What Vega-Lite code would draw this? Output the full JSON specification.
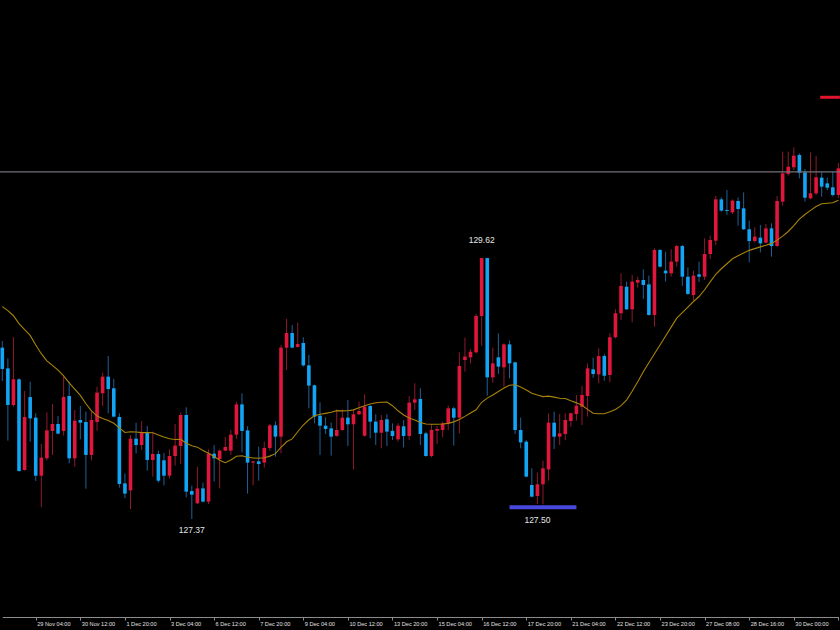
{
  "$schema": "https://vega.github.io/schema/vega-lite/v6.json",
  "width": 840,
  "height": 617,
  "padding": {"left": 0, "right": 0, "top": 0, "bottom": 13},
  "autosize": {"type": "none"},
  "background": "#000000",
  "config": {"view": {"stroke": null}, "axis": {"grid": false}},
  "data": {"values": [
    {"t":"26 Nov 04:00","o":128.851,"h":128.908,"l":128.565,"c":128.668,"ma":129.203},
    {"t":"26 Nov 08:00","o":128.673,"h":128.759,"l":128.053,"c":128.359,"ma":129.169},
    {"t":"26 Nov 12:00","o":128.359,"h":128.942,"l":128.344,"c":128.579,"ma":129.125},
    {"t":"26 Nov 16:00","o":128.579,"h":128.588,"l":127.786,"c":127.792,"ma":129.057},
    {"t":"26 Nov 20:00","o":127.801,"h":128.479,"l":127.795,"c":128.256,"ma":129.006},
    {"t":"29 Nov 00:00","o":128.427,"h":128.559,"l":128.044,"c":128.244,"ma":128.956},
    {"t":"29 Nov 04:00","o":128.250,"h":128.287,"l":127.706,"c":127.752,"ma":128.874},
    {"t":"29 Nov 08:00","o":127.752,"h":128.024,"l":127.483,"c":127.907,"ma":128.799},
    {"t":"29 Nov 12:00","o":127.901,"h":128.296,"l":127.884,"c":128.141,"ma":128.738},
    {"t":"29 Nov 16:00","o":128.136,"h":128.367,"l":127.930,"c":128.196,"ma":128.699},
    {"t":"29 Nov 20:00","o":128.196,"h":128.264,"l":128.107,"c":128.113,"ma":128.658},
    {"t":"30 Nov 00:00","o":128.136,"h":128.602,"l":128.096,"c":128.427,"ma":128.609},
    {"t":"30 Nov 04:00","o":128.436,"h":128.559,"l":127.858,"c":127.901,"ma":128.549},
    {"t":"30 Nov 08:00","o":127.901,"h":128.316,"l":127.829,"c":128.224,"ma":128.495},
    {"t":"30 Nov 12:00","o":128.230,"h":128.350,"l":128.064,"c":128.207,"ma":128.441},
    {"t":"30 Nov 16:00","o":128.213,"h":128.302,"l":127.641,"c":127.930,"ma":128.369},
    {"t":"30 Nov 20:00","o":127.930,"h":128.307,"l":127.884,"c":128.230,"ma":128.309},
    {"t":"1 Dec 00:00","o":128.213,"h":128.516,"l":128.138,"c":128.465,"ma":128.264},
    {"t":"1 Dec 04:00","o":128.459,"h":128.636,"l":128.350,"c":128.602,"ma":128.242},
    {"t":"1 Dec 08:00","o":128.602,"h":128.779,"l":128.287,"c":128.496,"ma":128.226},
    {"t":"1 Dec 12:00","o":128.502,"h":128.582,"l":128.253,"c":128.259,"ma":128.202},
    {"t":"1 Dec 16:00","o":128.256,"h":128.287,"l":127.649,"c":127.681,"ma":128.162},
    {"t":"1 Dec 20:00","o":127.686,"h":127.772,"l":127.558,"c":127.598,"ma":128.123},
    {"t":"2 Dec 00:00","o":127.626,"h":128.101,"l":127.466,"c":128.070,"ma":128.129},
    {"t":"2 Dec 04:00","o":128.070,"h":128.207,"l":127.944,"c":128.015,"ma":128.127},
    {"t":"2 Dec 08:00","o":128.015,"h":128.221,"l":127.972,"c":128.124,"ma":128.122},
    {"t":"2 Dec 12:00","o":128.124,"h":128.178,"l":127.795,"c":127.887,"ma":128.123},
    {"t":"2 Dec 16:00","o":127.887,"h":128.130,"l":127.744,"c":127.938,"ma":128.120},
    {"t":"2 Dec 20:00","o":127.938,"h":127.967,"l":127.692,"c":127.709,"ma":128.101},
    {"t":"3 Dec 00:00","o":127.884,"h":127.947,"l":127.669,"c":127.752,"ma":128.084},
    {"t":"3 Dec 04:00","o":127.752,"h":127.978,"l":127.729,"c":127.921,"ma":128.069},
    {"t":"3 Dec 08:00","o":127.921,"h":128.196,"l":127.838,"c":128.010,"ma":128.063},
    {"t":"3 Dec 12:00","o":128.007,"h":128.293,"l":127.852,"c":128.273,"ma":128.065},
    {"t":"3 Dec 16:00","o":128.273,"h":128.339,"l":127.566,"c":127.615,"ma":128.031},
    {"t":"3 Dec 20:00","o":127.620,"h":127.666,"l":127.380,"c":127.589,"ma":128.009,"noteLo":"127.37"},
    {"t":"6 Dec 00:00","o":127.515,"h":127.829,"l":127.509,"c":127.643,"ma":127.997},
    {"t":"6 Dec 04:00","o":127.643,"h":127.692,"l":127.523,"c":127.529,"ma":127.968},
    {"t":"6 Dec 08:00","o":127.529,"h":127.978,"l":127.509,"c":127.941,"ma":127.944},
    {"t":"6 Dec 12:00","o":127.941,"h":128.015,"l":127.701,"c":127.901,"ma":127.916},
    {"t":"6 Dec 16:00","o":127.895,"h":127.978,"l":127.643,"c":127.967,"ma":127.885},
    {"t":"6 Dec 20:00","o":127.967,"h":128.084,"l":127.961,"c":127.998,"ma":127.863},
    {"t":"7 Dec 00:00","o":127.967,"h":128.144,"l":127.930,"c":128.104,"ma":127.886},
    {"t":"7 Dec 04:00","o":128.104,"h":128.387,"l":128.067,"c":128.364,"ma":127.919},
    {"t":"7 Dec 08:00","o":128.364,"h":128.459,"l":127.952,"c":128.136,"ma":127.923},
    {"t":"7 Dec 12:00","o":128.141,"h":128.176,"l":127.598,"c":127.864,"ma":127.910},
    {"t":"7 Dec 16:00","o":127.864,"h":127.878,"l":127.669,"c":127.875,"ma":127.904},
    {"t":"7 Dec 20:00","o":127.875,"h":128.001,"l":127.709,"c":127.852,"ma":127.901},
    {"t":"8 Dec 00:00","o":127.864,"h":128.044,"l":127.821,"c":127.990,"ma":127.906},
    {"t":"8 Dec 04:00","o":127.990,"h":128.196,"l":127.967,"c":128.184,"ma":127.920},
    {"t":"8 Dec 08:00","o":128.184,"h":128.219,"l":127.915,"c":128.087,"ma":127.941},
    {"t":"8 Dec 12:00","o":128.087,"h":128.874,"l":127.944,"c":128.851,"ma":127.996},
    {"t":"8 Dec 16:00","o":128.851,"h":129.097,"l":128.659,"c":128.977,"ma":128.043},
    {"t":"8 Dec 20:00","o":128.977,"h":129.045,"l":128.845,"c":128.851,"ma":128.068},
    {"t":"9 Dec 00:00","o":128.857,"h":129.065,"l":128.851,"c":128.882,"ma":128.129},
    {"t":"9 Dec 04:00","o":128.891,"h":128.940,"l":128.688,"c":128.699,"ma":128.187},
    {"t":"9 Dec 08:00","o":128.699,"h":128.788,"l":128.330,"c":128.525,"ma":128.232},
    {"t":"9 Dec 12:00","o":128.528,"h":128.533,"l":128.201,"c":128.259,"ma":128.267},
    {"t":"9 Dec 16:00","o":128.267,"h":128.382,"l":127.930,"c":128.181,"ma":128.279},
    {"t":"9 Dec 20:00","o":128.181,"h":128.253,"l":128.110,"c":128.153,"ma":128.287},
    {"t":"10 Dec 00:00","o":128.158,"h":128.207,"l":127.924,"c":128.087,"ma":128.296},
    {"t":"10 Dec 04:00","o":128.093,"h":128.321,"l":128.087,"c":128.144,"ma":128.310},
    {"t":"10 Dec 08:00","o":128.144,"h":128.321,"l":128.138,"c":128.250,"ma":128.308},
    {"t":"10 Dec 12:00","o":128.250,"h":128.402,"l":128.007,"c":128.193,"ma":128.309},
    {"t":"10 Dec 16:00","o":128.193,"h":128.321,"l":127.806,"c":128.279,"ma":128.317},
    {"t":"10 Dec 20:00","o":128.279,"h":128.387,"l":128.273,"c":128.307,"ma":128.335},
    {"t":"13 Dec 00:00","o":128.095,"h":128.450,"l":128.087,"c":128.344,"ma":128.353},
    {"t":"13 Dec 04:00","o":128.350,"h":128.359,"l":128.073,"c":128.216,"ma":128.367},
    {"t":"13 Dec 08:00","o":128.216,"h":128.279,"l":128.015,"c":128.121,"ma":128.378},
    {"t":"13 Dec 12:00","o":128.121,"h":128.273,"l":127.987,"c":128.230,"ma":128.382},
    {"t":"13 Dec 16:00","o":128.236,"h":128.279,"l":128.007,"c":128.130,"ma":128.384},
    {"t":"13 Dec 20:00","o":128.136,"h":128.201,"l":128.058,"c":128.093,"ma":128.353},
    {"t":"14 Dec 00:00","o":128.064,"h":128.201,"l":128.044,"c":128.181,"ma":128.309},
    {"t":"14 Dec 04:00","o":128.176,"h":128.230,"l":127.995,"c":128.093,"ma":128.273},
    {"t":"14 Dec 08:00","o":128.093,"h":128.436,"l":128.058,"c":128.379,"ma":128.248},
    {"t":"14 Dec 12:00","o":128.379,"h":128.545,"l":128.316,"c":128.407,"ma":128.230},
    {"t":"14 Dec 16:00","o":128.410,"h":128.502,"l":128.015,"c":128.110,"ma":128.209},
    {"t":"14 Dec 20:00","o":128.115,"h":128.130,"l":127.915,"c":127.921,"ma":128.195},
    {"t":"15 Dec 00:00","o":127.921,"h":128.196,"l":127.910,"c":128.144,"ma":128.193},
    {"t":"15 Dec 04:00","o":128.138,"h":128.181,"l":128.024,"c":128.153,"ma":128.193},
    {"t":"15 Dec 08:00","o":128.144,"h":128.216,"l":128.081,"c":128.201,"ma":128.196},
    {"t":"15 Dec 12:00","o":128.201,"h":128.353,"l":128.144,"c":128.330,"ma":128.201},
    {"t":"15 Dec 16:00","o":128.330,"h":128.344,"l":128.010,"c":128.250,"ma":128.214},
    {"t":"15 Dec 20:00","o":128.250,"h":128.811,"l":128.115,"c":128.693,"ma":128.234},
    {"t":"16 Dec 00:00","o":128.745,"h":128.937,"l":128.645,"c":128.774,"ma":128.261},
    {"t":"16 Dec 04:00","o":128.768,"h":128.839,"l":128.716,"c":128.816,"ma":128.290},
    {"t":"16 Dec 08:00","o":128.811,"h":129.140,"l":128.802,"c":129.123,"ma":128.318},
    {"t":"16 Dec 12:00","o":129.123,"h":129.623,"l":128.868,"c":129.620,"ma":128.382,"noteHi":"129.62"},
    {"t":"16 Dec 16:00","o":129.620,"h":129.623,"l":128.439,"c":128.596,"ma":128.418},
    {"t":"16 Dec 20:00","o":128.596,"h":128.851,"l":128.550,"c":128.716,"ma":128.444},
    {"t":"17 Dec 00:00","o":128.768,"h":128.974,"l":128.625,"c":128.688,"ma":128.474},
    {"t":"17 Dec 04:00","o":128.682,"h":128.888,"l":128.516,"c":128.879,"ma":128.505},
    {"t":"17 Dec 08:00","o":128.879,"h":128.911,"l":128.588,"c":128.716,"ma":128.528,"lvlB":127.48},
    {"t":"17 Dec 12:00","o":128.725,"h":128.730,"l":128.110,"c":128.144,"ma":128.532},
    {"t":"17 Dec 16:00","o":128.144,"h":128.250,"l":127.987,"c":128.038,"ma":128.513},
    {"t":"17 Dec 20:00","o":128.044,"h":128.058,"l":127.738,"c":127.744,"ma":128.487},
    {"t":"20 Dec 00:00","o":127.672,"h":127.815,"l":127.566,"c":127.572,"ma":128.459},
    {"t":"20 Dec 04:00","o":127.578,"h":127.778,"l":127.509,"c":127.678,"ma":128.444,"noteLvl":"127.50"},
    {"t":"20 Dec 08:00","o":127.678,"h":127.881,"l":127.506,"c":127.815,"ma":128.431},
    {"t":"20 Dec 12:00","o":127.806,"h":128.287,"l":127.709,"c":128.207,"ma":128.435},
    {"t":"20 Dec 16:00","o":128.207,"h":128.301,"l":127.981,"c":128.087,"ma":128.426},
    {"t":"20 Dec 20:00","o":128.087,"h":128.281,"l":128.015,"c":128.115,"ma":128.417},
    {"t":"21 Dec 00:00","o":128.110,"h":128.287,"l":128.058,"c":128.230,"ma":128.415},
    {"t":"21 Dec 04:00","o":128.221,"h":128.293,"l":128.173,"c":128.287,"ma":128.395},
    {"t":"21 Dec 08:00","o":128.281,"h":128.445,"l":128.224,"c":128.353,"ma":128.377,"lvlB":127.48},
    {"t":"21 Dec 12:00","o":128.344,"h":128.522,"l":128.187,"c":128.445,"ma":128.357},
    {"t":"21 Dec 16:00","o":128.436,"h":128.716,"l":128.259,"c":128.673,"ma":128.321},
    {"t":"21 Dec 20:00","o":128.665,"h":128.765,"l":128.593,"c":128.625,"ma":128.288},
    {"t":"22 Dec 00:00","o":128.622,"h":128.845,"l":128.545,"c":128.779,"ma":128.284},
    {"t":"22 Dec 04:00","o":128.779,"h":128.796,"l":128.568,"c":128.610,"ma":128.284},
    {"t":"22 Dec 08:00","o":128.616,"h":128.974,"l":128.553,"c":128.940,"ma":128.301},
    {"t":"22 Dec 12:00","o":128.940,"h":129.180,"l":128.931,"c":129.146,"ma":128.320},
    {"t":"22 Dec 16:00","o":129.146,"h":129.489,"l":129.088,"c":129.380,"ma":128.353},
    {"t":"22 Dec 20:00","o":129.374,"h":129.417,"l":129.174,"c":129.180,"ma":128.401},
    {"t":"23 Dec 00:00","o":129.180,"h":129.475,"l":129.068,"c":129.417,"ma":128.477},
    {"t":"23 Dec 04:00","o":129.409,"h":129.460,"l":129.366,"c":129.432,"ma":128.558},
    {"t":"23 Dec 08:00","o":129.432,"h":129.523,"l":129.269,"c":129.389,"ma":128.644},
    {"t":"23 Dec 12:00","o":129.394,"h":129.469,"l":129.126,"c":129.131,"ma":128.721},
    {"t":"23 Dec 16:00","o":129.131,"h":129.703,"l":129.031,"c":129.689,"ma":128.798},
    {"t":"23 Dec 20:00","o":129.689,"h":129.698,"l":129.538,"c":129.546,"ma":128.874},
    {"t":"24 Dec 00:00","o":129.512,"h":129.675,"l":129.417,"c":129.489,"ma":128.951},
    {"t":"24 Dec 04:00","o":129.489,"h":129.695,"l":129.460,"c":129.589,"ma":129.027},
    {"t":"24 Dec 08:00","o":129.589,"h":129.732,"l":129.546,"c":129.723,"ma":129.104},
    {"t":"24 Dec 12:00","o":129.723,"h":129.732,"l":129.380,"c":129.460,"ma":129.151},
    {"t":"24 Dec 16:00","o":129.460,"h":129.540,"l":129.303,"c":129.312,"ma":129.199},
    {"t":"27 Dec 00:00","o":129.303,"h":129.512,"l":129.260,"c":129.469,"ma":129.247},
    {"t":"27 Dec 04:00","o":129.480,"h":129.589,"l":129.414,"c":129.460,"ma":129.290},
    {"t":"27 Dec 08:00","o":129.460,"h":129.789,"l":129.432,"c":129.655,"ma":129.348},
    {"t":"27 Dec 12:00","o":129.655,"h":129.812,"l":129.612,"c":129.775,"ma":129.415},
    {"t":"27 Dec 16:00","o":129.769,"h":130.153,"l":129.732,"c":130.124,"ma":129.481},
    {"t":"27 Dec 20:00","o":130.124,"h":130.141,"l":130.018,"c":130.027,"ma":129.528},
    {"t":"28 Dec 00:00","o":130.032,"h":130.204,"l":129.990,"c":130.024,"ma":129.571},
    {"t":"28 Dec 04:00","o":130.012,"h":130.124,"l":129.998,"c":130.113,"ma":129.614},
    {"t":"28 Dec 08:00","o":130.110,"h":130.141,"l":129.898,"c":130.041,"ma":129.640},
    {"t":"28 Dec 12:00","o":130.047,"h":130.184,"l":129.861,"c":129.867,"ma":129.663},
    {"t":"28 Dec 16:00","o":129.867,"h":129.941,"l":129.583,"c":129.766,"ma":129.686},
    {"t":"28 Dec 20:00","o":129.766,"h":129.884,"l":129.752,"c":129.804,"ma":129.701},
    {"t":"29 Dec 00:00","o":129.795,"h":129.904,"l":129.669,"c":129.746,"ma":129.716},
    {"t":"29 Dec 04:00","o":129.752,"h":129.912,"l":129.746,"c":129.875,"ma":129.730},
    {"t":"29 Dec 08:00","o":129.875,"h":129.918,"l":129.632,"c":129.723,"ma":129.746},
    {"t":"29 Dec 12:00","o":129.723,"h":130.153,"l":129.718,"c":130.110,"ma":129.774},
    {"t":"29 Dec 16:00","o":130.104,"h":130.533,"l":130.070,"c":130.347,"ma":129.808},
    {"t":"29 Dec 20:00","o":130.342,"h":130.533,"l":130.327,"c":130.404,"ma":129.848},
    {"t":"30 Dec 00:00","o":130.399,"h":130.570,"l":130.376,"c":130.499,"ma":129.899},
    {"t":"30 Dec 04:00","o":130.505,"h":130.519,"l":130.304,"c":130.353,"ma":129.955},
    {"t":"30 Dec 08:00","o":130.356,"h":130.382,"l":130.104,"c":130.138,"ma":129.994},
    {"t":"30 Dec 12:00","o":130.133,"h":130.527,"l":130.124,"c":130.176,"ma":130.029},
    {"t":"30 Dec 16:00","o":130.176,"h":130.496,"l":130.161,"c":130.313,"ma":130.063},
    {"t":"30 Dec 20:00","o":130.310,"h":130.356,"l":130.147,"c":130.233,"ma":130.086,"lvlR":131.0},
    {"t":"31 Dec 00:00","o":130.261,"h":130.310,"l":130.204,"c":130.224,"ma":130.090},
    {"t":"31 Dec 04:00","o":130.227,"h":130.362,"l":130.147,"c":130.161,"ma":130.095},
    {"t":"31 Dec 08:00","o":130.161,"h":130.436,"l":130.135,"c":130.390,"ma":130.117,"lvlR":131.0,"bid":130.36}
  ]},
  "layer": [
    {
      "mark": {"type": "rule", "strokeWidth": 1},
      "encoding": {
        "x": {"field": "t", "type": "ordinal", "sort": null,
          "scale": {"type": "point", "range": [2.3, 838.4], "padding": 0},
          "axis": {
            "values": ["29 Nov 04:00","30 Nov 12:00","1 Dec 20:00","3 Dec 04:00","6 Dec 12:00","7 Dec 20:00","9 Dec 04:00","10 Dec 12:00","13 Dec 20:00","15 Dec 04:00","16 Dec 12:00","17 Dec 20:00","21 Dec 04:00","22 Dec 12:00","23 Dec 20:00","27 Dec 08:00","28 Dec 16:00","30 Dec 00:00","31 Dec 08:00"],
            "title": null, "labelAngle": 0, "labelAlign": "left", "labelBaseline": "top",
            "labelOffset": 1, "labelPadding": 1.5, "labelColor": "#E0E0E0",
            "labelFont": "Liberation Sans", "labelFontSize": 5.6,
            "labelOverlap": false, "labelBound": false, "labelFlush": false,
            "tickColor": "#8C8C8C", "tickSize": 3, "tickWidth": 1,
            "domainColor": "#8C8C8C", "domainWidth": 1
          }
        },
        "y": {"field": "l", "type": "quantitative",
          "scale": {"domain": [126.539, 131.835], "nice": false, "zero": false},
          "axis": null},
        "y2": {"field": "h"},
        "color": {"condition": {"test": "datum.c >= datum.o", "value": "#8E1B2E"}, "value": "#1F6098"}
      }
    },
    {
      "mark": {"type": "bar", "width": 3.6},
      "encoding": {
        "x": {"field": "t", "type": "ordinal", "sort": null},
        "y": {"field": "o", "type": "quantitative"},
        "y2": {"field": "c"},
        "color": {"condition": {"test": "datum.c >= datum.o", "value": "#E0163C"}, "value": "#12A5F5"}
      }
    },
    {
      "mark": {"type": "line", "color": "#A8830A", "strokeWidth": 1.1},
      "encoding": {
        "x": {"field": "t", "type": "ordinal", "sort": null},
        "y": {"field": "ma", "type": "quantitative"}
      }
    },
    {
      "transform": [{"filter": "isValid(datum.bid)"}],
      "mark": {"type": "rule", "color": "#72727A", "strokeWidth": 1.2},
      "encoding": {
        "y": {"field": "bid", "type": "quantitative"}
      }
    },
    {
      "transform": [{"filter": "isValid(datum.lvlB)"}],
      "mark": {"type": "line", "color": "#4848DC", "strokeWidth": 4, "strokeCap": "butt"},
      "encoding": {
        "x": {"field": "t", "type": "ordinal", "sort": null},
        "y": {"field": "lvlB", "type": "quantitative"}
      }
    },
    {
      "transform": [{"filter": "isValid(datum.lvlR)"}],
      "mark": {"type": "line", "color": "#E3142E", "strokeWidth": 3, "strokeCap": "square"},
      "encoding": {
        "x": {"field": "t", "type": "ordinal", "sort": null},
        "y": {"field": "lvlR", "type": "quantitative"}
      }
    },
    {
      "transform": [{"filter": "isValid(datum.noteHi)"}],
      "mark": {"type": "text", "color": "#E6E6E6", "font": "Liberation Sans", "fontSize": 8.5, "baseline": "middle", "align": "center", "dy": -18},
      "encoding": {
        "x": {"field": "t", "type": "ordinal", "sort": null},
        "y": {"field": "h", "type": "quantitative"},
        "text": {"field": "noteHi"}
      }
    },
    {
      "transform": [{"filter": "isValid(datum.noteLo)"}],
      "mark": {"type": "text", "color": "#E6E6E6", "font": "Liberation Sans", "fontSize": 8.5, "baseline": "middle", "align": "center", "dy": 11},
      "encoding": {
        "x": {"field": "t", "type": "ordinal", "sort": null},
        "y": {"field": "l", "type": "quantitative"},
        "text": {"field": "noteLo"}
      }
    },
    {
      "transform": [{"filter": "isValid(datum.noteLvl)"}],
      "mark": {"type": "text", "color": "#E6E6E6", "font": "Liberation Sans", "fontSize": 8.5, "baseline": "middle", "align": "center", "dy": 16},
      "encoding": {
        "x": {"field": "t", "type": "ordinal", "sort": null},
        "y": {"field": "l", "type": "quantitative"},
        "text": {"field": "noteLvl"}
      }
    }
  ]
}
